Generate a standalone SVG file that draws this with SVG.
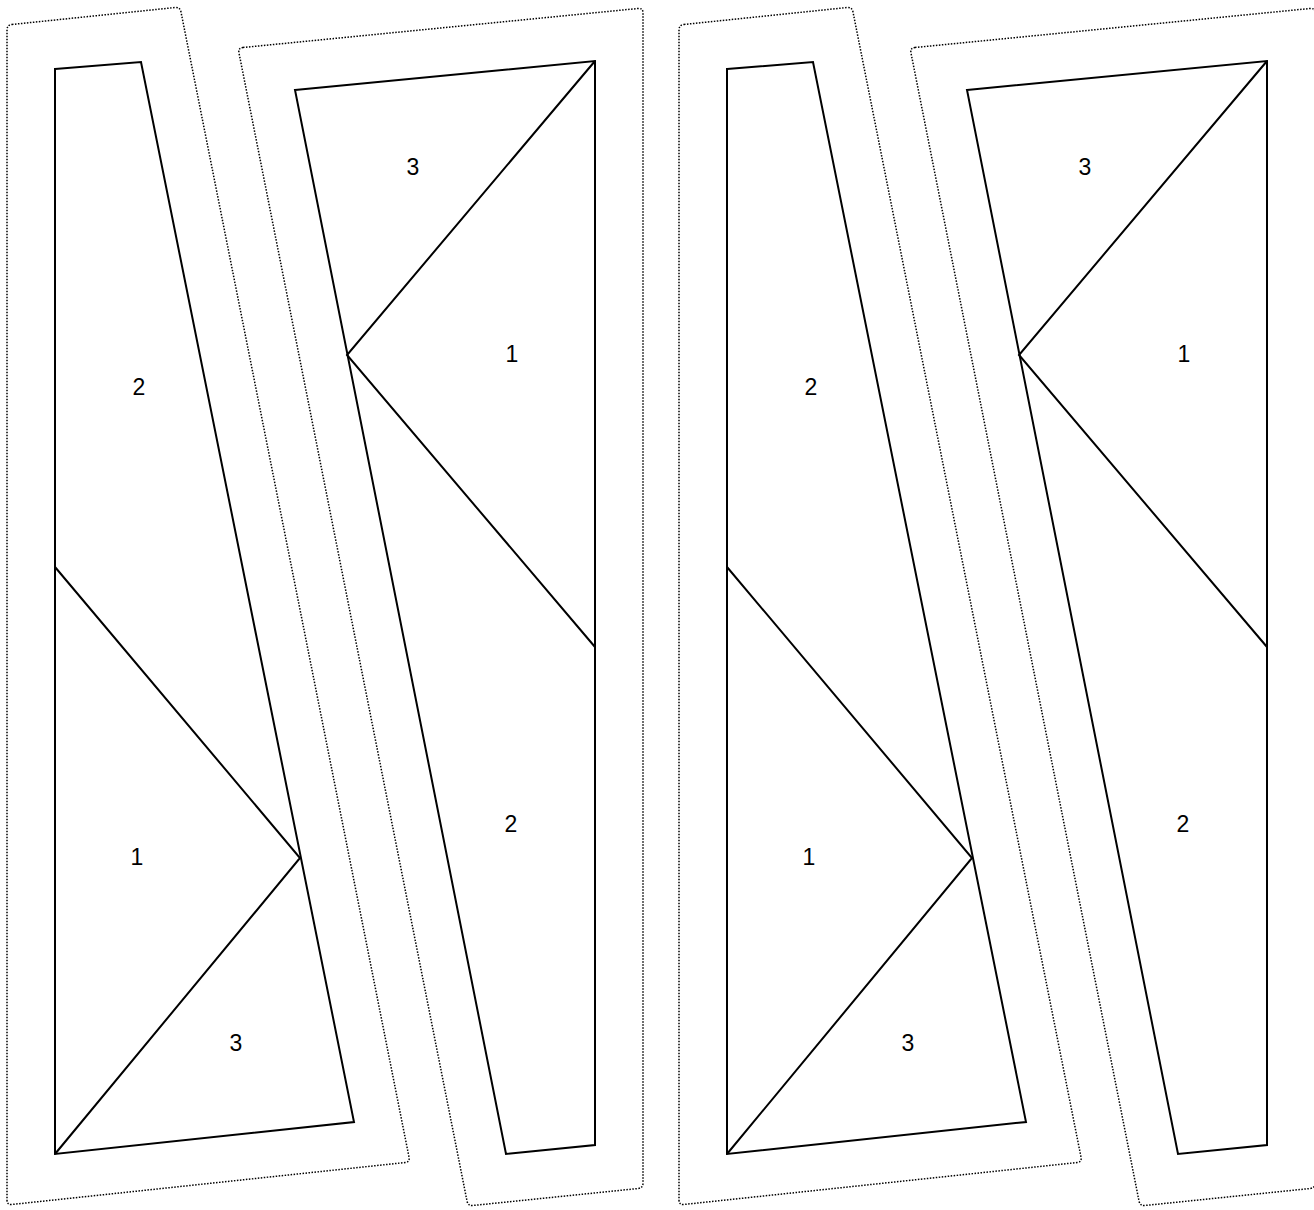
<svg xmlns="http://www.w3.org/2000/svg" width="1314" height="1210" viewBox="0 0 1314 1210">
<style>
.outline{fill:none;stroke:#000;stroke-width:1.5;stroke-dasharray:1.5 1.5}
.shape{fill:none;stroke:#000;stroke-width:2;stroke-linejoin:miter}
.lbl{font-family:"Liberation Sans",Arial,sans-serif;font-size:23px;fill:#000;text-anchor:middle}
</style>
<rect width="1314" height="1210" fill="#fff"/>
<defs>
<g id="pieceA">
<path class="outline" d="M11.97,24.48 L175.03,7.52 Q180,7 180.98,11.9 L409.02,1157.1 Q410,1162 405.03,1162.53 L11.97,1204.47 Q7,1205 7,1200 L7,30 Q7,25 11.97,24.48 Z"/>
<polygon class="shape" points="55,69 141,62 354,1122 55,1154"/>
<polyline class="shape" points="55,567 300,858 55,1154"/>
<text class="lbl" x="139" y="395">2</text>
<text class="lbl" x="137" y="865">1</text>
<text class="lbl" x="236" y="1051">3</text>
</g>
<g id="pieceB">
<path class="outline" d="M242.98,47.51 L638.02,8.49 Q643,8 643,13 L643,1183 Q643,1188 638.03,1188.51 L472.97,1205.49 Q468,1206 467.03,1201.1 L238.97,52.9 Q238,48 242.98,47.51 Z"/>
<polygon class="shape" points="295,90 595,61 595,1145 506,1154"/>
<polyline class="shape" points="595,61 347,355 595,647"/>
<text class="lbl" x="413" y="175">3</text>
<text class="lbl" x="512" y="362">1</text>
<text class="lbl" x="511" y="832">2</text>
</g>
</defs>
<g id="piece-A-left"><use href="#pieceA"/></g>
<g id="piece-B-left"><use href="#pieceB"/></g>
<g id="piece-A-right" transform="translate(672,0)"><use href="#pieceA"/></g>
<g id="piece-B-right" transform="translate(672,0)"><use href="#pieceB"/></g>
<g id="connectors"/>
</svg>
